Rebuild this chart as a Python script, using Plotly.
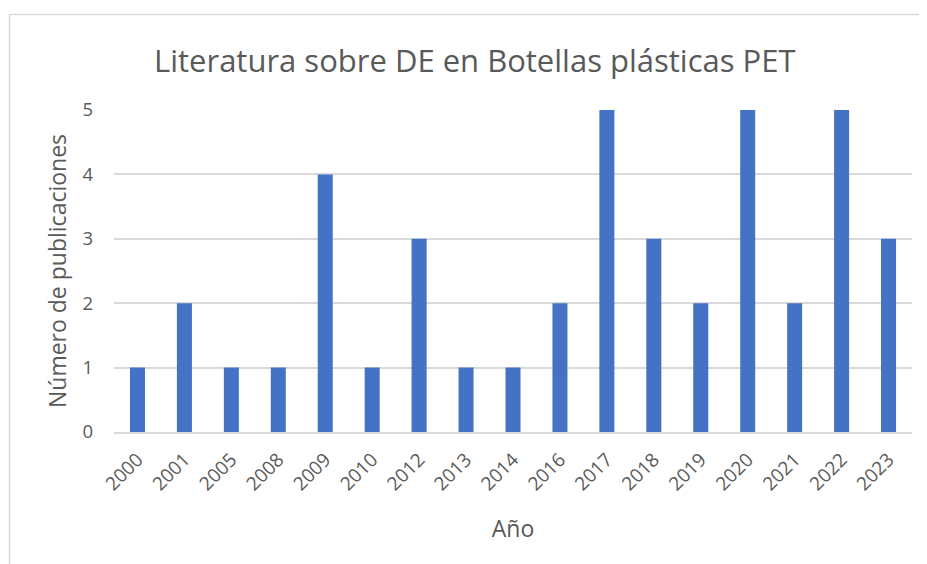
import plotly.graph_objects as go

years = ["2000", "2001", "2005", "2008", "2009", "2010", "2012", "2013", "2014",
         "2016", "2017", "2018", "2019", "2020", "2021", "2022", "2023"]
counts = [1, 2, 1, 1, 4, 1, 3, 1, 1, 2, 5, 3, 2, 5, 2, 5, 3]

# page body has an 8px margin, so the figure is placed at (8, 8)
OFF = 8
W, H = 927 - OFF, 564 - OFF
L, R, T, B = 114 - OFF, 15, 110 - OFF, 132
pw, ph = W - L - R, H - T - B

def px(x):
    return (x - OFF - L) / pw

def py(y):
    return (H - B - (y - OFF)) / ph

font = "Open Sans, sans-serif"
gray = "#595959"

fig = go.Figure(go.Bar(x=years, y=counts, marker_color="#4472C4", marker_line_width=0))

fig.update_layout(
    width=W, height=H,
    margin=dict(l=L, r=R, t=T, b=B),
    paper_bgcolor="white", plot_bgcolor="white",
    bargap=0.68,
    showlegend=False,
    font=dict(family=font, color=gray),
    xaxis=dict(tickangle=-45, tickfont=dict(size=19, color=gray), showgrid=False,
               showline=True, linecolor="#D9D9D9", linewidth=2, ticks="", ticklabelstandoff=7,
               title=dict(text="Año", font=dict(size=23, color=gray), standoff=26)),
    yaxis=dict(range=[0, 5], dtick=1, tickfont=dict(size=18.5, color=gray),
               showgrid=True, gridcolor="#D9D9D9", gridwidth=1.5, zeroline=False,
               ticks="", ticklabelstandoff=20,
               title=dict(text="Número de publicaciones", font=dict(size=23, color=gray), standoff=9)),
    annotations=[dict(text="Literatura sobre DE en Botellas plásticas PET", xref="paper", yref="paper",
                      x=px(474), y=py(60), showarrow=False, xanchor="center", yanchor="middle",
                      font=dict(size=31, color=gray, family=font))],
    shapes=[dict(type="rect", xref="paper", yref="paper", x0=px(9.5), y0=py(600), x1=px(960), y1=py(14.5),
                 line=dict(color="#D9D9D9", width=1.5), fillcolor="rgba(0,0,0,0)", layer="below")],
)

fig.write_html("out.html")
